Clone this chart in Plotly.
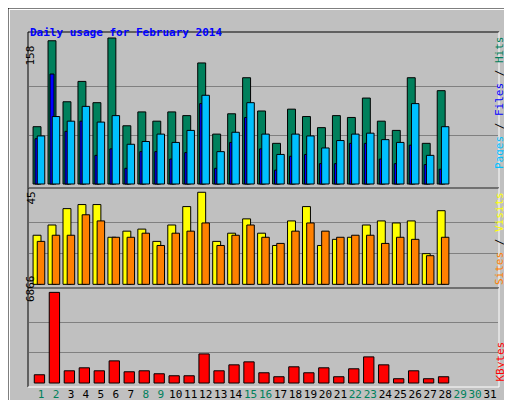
import plotly.graph_objects as go

days = list(range(1, 32))
data_days = list(range(1, 29))
hits = [62,155,89,111,88,158,63,78,68,78,74,131,54,76,115,79,44,81,73,61,74,72,93,68,58,115,44,101]
files = [49,119,57,68,31,38,17,35,35,27,34,87,17,45,72,38,15,30,32,22,22,44,44,27,22,42,21,16]
pages = [52,73,68,84,67,74,43,46,54,45,58,96,35,56,88,54,32,54,52,39,47,54,55,48,45,87,31,62]
visits = [24,29,37,39,39,23,26,27,21,29,38,45,21,25,32,25,19,31,38,19,22,23,29,31,30,31,15,36]
sites = [21,24,24,34,31,23,23,25,19,25,26,30,19,24,29,23,20,26,30,26,23,24,24,20,23,22,14,23]
kbytes = [627,6866,927,1153,927,1679,852,927,702,551,551,2205,927,1378,1604,777,476,1228,777,1153,476,1078,1980,1378,326,927,326,476]
weekend = {1,2,8,9,15,16,22,23,29,30}
ticktext = [f"<span style='color:#00805c'>{d}</span>" if d in weekend else str(d) for d in days]

W, H = 512, 400
def py(p):
    return 1 - p / H

fig = go.Figure()
ln = dict(color="black", width=1)
def bar(y, color, off, w, ax):
    fig.add_trace(go.Bar(x=data_days, y=y, marker=dict(color=color, line=ln),
                         offset=off, width=w, xaxis=ax[0], yaxis=ax[1]))

bar(hits, "#00805c", -0.53, 0.53, ("x", "y"))
bar(files, "#0000ff", -0.4, 0.27, ("x", "y"))
bar(pages, "#00c0ff", -0.25, 0.5, ("x", "y"))
bar(visits, "#ffff00", -0.53, 0.53, ("x2", "y2"))
bar(sites, "#ff8000", -0.25, 0.5, ("x2", "y2"))
bar(kbytes, "#ff0000", -0.45, 0.69, ("x3", "y3"))

xr = [0.198, 31.53]
xd = [21 / W, 490 / W]
grid = dict(showgrid=True, gridcolor="#808080", gridwidth=1, zeroline=False, showticklabels=False,
            ticks="", automargin=False)
fig.update_layout(
    width=W, height=H, margin=dict(l=0, r=0, t=0, b=0, autoexpand=False),
    paper_bgcolor="#c0c0c0", plot_bgcolor="#c0c0c0", barmode="overlay",
    showlegend=False, font=dict(family="DejaVu Sans Mono", size=11, color="black"),
    xaxis=dict(domain=xd, range=xr, showgrid=False, showticklabels=False, anchor="y", automargin=False),
    xaxis2=dict(domain=xd, range=xr, showgrid=False, showticklabels=False, anchor="y2", automargin=False),
    xaxis3=dict(domain=xd, range=xr, showgrid=False, tickvals=days, ticktext=ticktext, tickangle=0,
                ticks="", tickfont=dict(size=11), anchor="y3", automargin=False),
    yaxis=dict(domain=[py(179), py(25)], range=[-3.25, 163.4], tickvals=[158/3, 2*158/3], **grid),
    yaxis2=dict(domain=[py(279), py(181)], range=[-1.3, 46.6], tickvals=[15, 30], **grid),
    yaxis3=dict(domain=[py(378), py(281)], range=[-225, 7121], tickvals=[6866/3, 2*6866/3], **grid),
)

shapes = []
def rect(x0, y0, x1, y1, tl, br, w=1):
    shapes.append(dict(type="line", xref="paper", yref="paper", x0=x0/W, y0=py(y0), x1=x1/W, y1=py(y0), line=dict(color=tl, width=w)))
    shapes.append(dict(type="line", xref="paper", yref="paper", x0=x0/W, y0=py(y0), x1=x0/W, y1=py(y1), line=dict(color=tl, width=w)))
    shapes.append(dict(type="line", xref="paper", yref="paper", x0=x0/W, y0=py(y1), x1=x1/W, y1=py(y1), line=dict(color=br, width=w)))
    shapes.append(dict(type="line", xref="paper", yref="paper", x0=x1/W, y0=py(y0), x1=x1/W, y1=py(y1), line=dict(color=br, width=w)))
rect(20, 24, 491, 180, "black", "white")
rect(20, 180, 491, 280, "black", "white")
rect(20, 280, 491, 379, "black", "white")
rect(1, 1, 511, 399, "white", "#606060", 2)
shapes.append(dict(type="rect", xref="paper", yref="paper", x0=0, y0=0, x1=1, y1=1, line=dict(color="black", width=1)))
fig.update_layout(shapes=shapes)

ann = [
    dict(x=20/W, y=py(16), text="<b>Daily usage for February 2014</b>", font=dict(color="#0000ff", size=11), xanchor="left"),
    dict(x=14/W, y=py(36), text="158", textangle=-90),
    dict(x=14/W, y=py(190), text="45", textangle=-90),
    dict(x=14/W, y=py(296), text="6866", textangle=-90),
    dict(x=500/W, y=py(26), yanchor="top",
         text="<span style='color:#00c0ff'>Pages</span> / <span style='color:#0000ff'>Files</span> / <span style='color:#00805c'>Hits</span>", textangle=-90),
    dict(x=500/W, y=py(182), yanchor="top",
         text="<span style='color:#ff8000'>Sites</span> / <span style='color:#ffff00'>Visits</span>", textangle=-90),
    dict(x=500/W, y=py(376), yanchor="bottom", text="<span style='color:#ff0000'>KBytes</span>", textangle=-90),
]
for a in ann:
    a.setdefault("xref", "paper"); a.setdefault("yref", "paper"); a.setdefault("showarrow", False)
fig.update_layout(annotations=ann)
fig.write_html("out.html")
